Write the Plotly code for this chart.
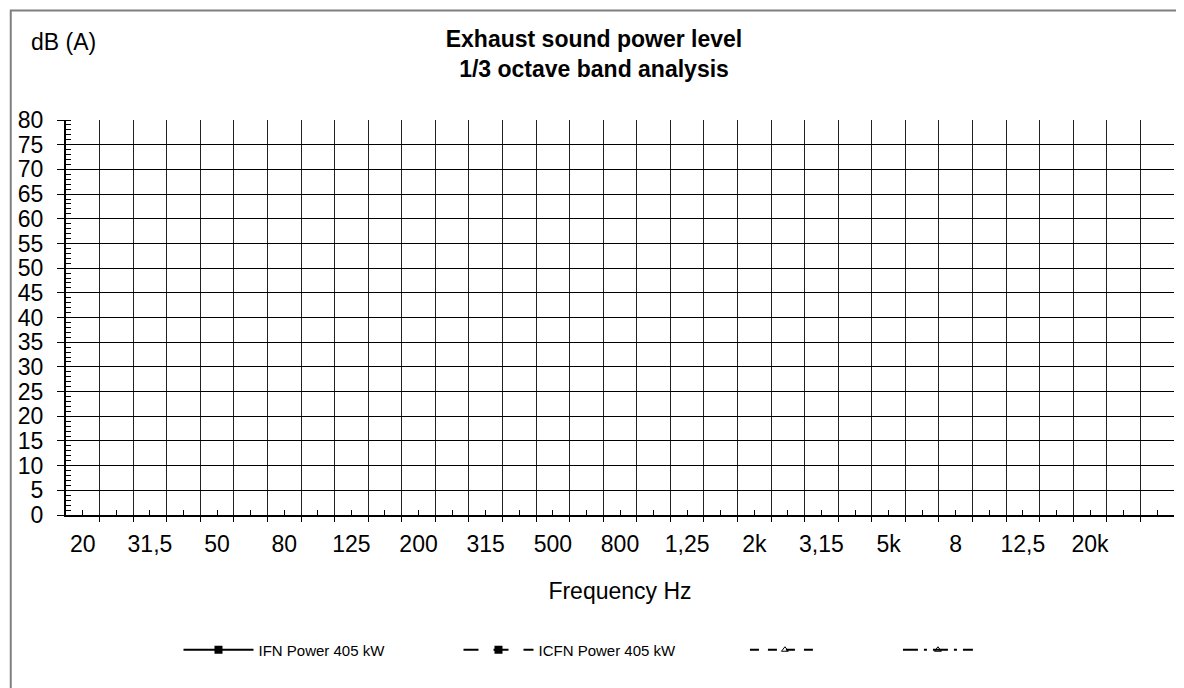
import plotly.graph_objects as go

# 1/3 octave bands shown on the x axis (blank = unlabeled slot)
bands = ["20", "25", "31,5", "40", "50", "63", "80", "100", "125", "160",
         "200", "250", "315", "400", "500", "630", "800", "1k", "1,25", "1,6",
         "2k", "2,5", "3,15", "4k", "5k", "6,3", "8", "10k", "12,5", "16k",
         "20k", "25k", ""]
tick_labels = [b if i % 2 == 0 else "" for i, b in enumerate(bands)]

# no measurements were plotted in the sheet -> empty series
ifn_power = [None] * len(bands)
icfn_power = [None] * len(bands)
series_3 = [None] * len(bands)
series_4 = [None] * len(bands)

y_ticks = list(range(0, 81, 5))

FONT = "Liberation Sans, Arial, sans-serif"
x_pos = list(range(len(bands)))

# the page body has an 8px margin, so the figure is 8px smaller than the window
W, H = 1176, 680

fig = go.Figure()

fig.add_trace(go.Scatter(
	x=x_pos, y=ifn_power, name="IFN Power 405 kW", mode="lines+markers",
	line=dict(color="black", width=2), marker=dict(symbol="square", size=8, color="black"),
	legend="legend"))
fig.add_trace(go.Scatter(
	x=x_pos, y=icfn_power, name="ICFN Power 405 kW", mode="lines+markers",
	line=dict(color="black", width=2, dash="longdash"),
	marker=dict(symbol="square", size=8, color="black"),
	legend="legend"))
fig.add_trace(go.Scatter(
	x=x_pos, y=series_3, name=" ", mode="lines+markers",
	line=dict(color="black", width=2, dash="dash"),
	marker=dict(symbol="triangle-up-open", size=6, color="black"),
	legend="legend2"))
fig.add_trace(go.Scatter(
	x=x_pos, y=series_4, name=" ", mode="lines+markers",
	line=dict(color="black", width=2, dash="longdashdot"),
	marker=dict(symbol="triangle-up-open", size=6, color="black"),
	legend="legend2"))

fig.update_xaxes(
	range=[-0.5, len(bands) - 0.5],
	tickmode="array", tickvals=x_pos, ticktext=tick_labels,
	ticks="inside", ticklen=5, tickcolor="black", tickwidth=1,
	ticklabelstandoff=7,
	showgrid=False, zeroline=False,
	showline=True, linecolor="black", linewidth=2,
	tickfont=dict(size=23, color="black"),
	title=dict(text="Frequency Hz", font=dict(size=23, color="black"), standoff=27),
	minor=dict(tickmode="array", tickvals=[i - 0.5 for i in range(len(bands) + 1)],
	           ticks="outside", ticklen=5, tickcolor="black", tickwidth=1,
	           showgrid=True, gridcolor="#222", gridwidth=1),
)

fig.update_yaxes(
	range=[0, 80], tickmode="array", tickvals=y_ticks,
	ticks="outside", ticklen=7, tickcolor="black", tickwidth=1,
	ticklabelstandoff=9,
	showgrid=True, gridcolor="black", gridwidth=1, zeroline=False,
	showline=True, linecolor="black", linewidth=2,
	tickfont=dict(size=23, color="black"),
	minor=dict(dtick=1, tick0=0, ticks="inside", ticklen=5, tickcolor="black",
	           tickwidth=1, showgrid=False),
)

# outer frame of the original worksheet chart
fig.add_shape(type="rect", xref="paper", yref="paper",
	x0=(5.5 - 61) / 1113, x1=(1200 - 61) / 1113,
	y0=-(700 - 515) / 395, y1=1 + (120 - 10.5) / 395,
	line=dict(color="#7f7f7f", width=2), fillcolor="rgba(0,0,0,0)", layer="below")

fig.add_annotation(text="dB (A)", xref="paper", yref="paper",
	x=(24 - 61) / 1113, y=1 + (120 - 42) / 395, xanchor="left", yanchor="middle",
	showarrow=False, font=dict(size=23, color="black"))

fig.update_layout(
	width=W, height=H,
	margin=dict(l=53, r=10, t=112, b=173),
	paper_bgcolor="white", plot_bgcolor="white",
	font=dict(family=FONT, color="black"),
	title=dict(text="<b>Exhaust sound power level<br>1/3 octave band analysis</b>",
	           x=(594 - 8) / W, xanchor="center", y=1 - (47 - 8) / H, yanchor="middle",
	           font=dict(size=23, color="black")),
	legend=dict(orientation="h", x=(174 - 61) / 1113, xanchor="left",
	            y=-(650 - 515) / 395, yanchor="middle",
	            itemwidth=70, entrywidth=195, font=dict(size=15, color="black"),
	            bgcolor="rgba(0,0,0,0)"),
	legend2=dict(orientation="h", x=(743 - 61) / 1113, xanchor="left",
	             y=-(650 - 515) / 395, yanchor="middle",
	             itemwidth=70, entrywidth=68, font=dict(size=15, color="black"),
	             bgcolor="rgba(0,0,0,0)"),
)

fig.write_html("out.html")
